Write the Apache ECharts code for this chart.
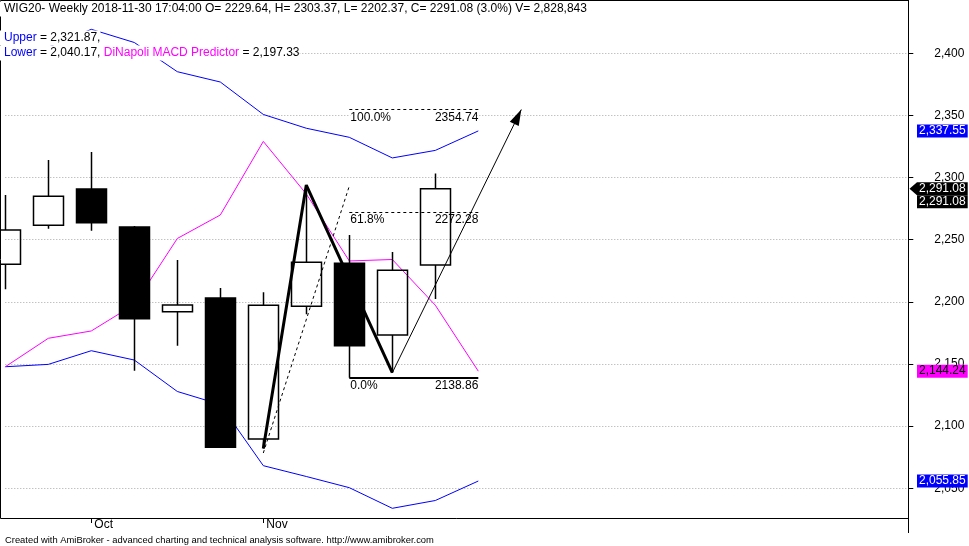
<!DOCTYPE html>
<html><head><meta charset="utf-8">
<script src="https://cdn.jsdelivr.net/npm/echarts@6/dist/echarts.min.js"></script>
<style>html,body{margin:0;padding:0;background:#fff}#c{width:969px;height:546px}</style>
</head><body><div id="c"></div>
<script>
// ---------- data ----------
const weeks = ['2018-09-21','2018-09-28','2018-10-05','2018-10-12','2018-10-19','2018-10-26','2018-11-02','2018-11-09','2018-11-16','2018-11-23','2018-11-30','2018-12-07','2018-12-14','2018-12-21','2018-12-28','2019-01-04','2019-01-11','2019-01-18','2019-01-25','2019-02-01','2019-02-08','2019-02-15'];
const monthLabels = {'2018-10-05':'Oct','2018-11-02':'Nov'};
const candleOpen  = [2230.2, 2261.6, 2290.8, 2260.2, 2192.1, 2203.1, 2089.6, 2196.4, 2231.0, 2173.3, 2229.64];
const candleClose = [2257.8, 2284.9, 2263.7, 2186.4, 2197.5, 2083.0, 2197.2, 2231.8, 2164.7, 2225.4, 2291.08];
const candleLow   = [2210.1, 2258.9, 2257.3, 2144.6, 2164.7, 2083.0, 2082.0, 2190.0, 2139.0, 2143.0, 2202.37];
const candleHigh  = [2286.0, 2314.1, 2320.6, 2261.0, 2233.7, 2211.2, 2207.7, 2294.0, 2253.8, 2240.1, 2303.37];
const upperBand   = [2398.0, 2405.0, 2419.3, 2408.7, 2385.2, 2376.9, 2350.8, 2339.7, 2332.4, 2315.8, 2321.87, 2337.55];
const lowerBand   = [2147.8, 2149.7, 2160.7, 2153.2, 2127.9, 2117.4, 2068.2, 2059.5, 2050.5, 2033.9, 2040.17, 2055.85];
const predictor   = [2147.8, 2170.7, 2176.6, 2197.9, 2251.0, 2269.9, 2329.1, 2286.8, 2232.9, 2234.1, 2197.33, 2144.24];
const zigIdx = [6, 7, 9];
const zigVal = [2082.0, 2294.0, 2143.0];
const dashIdx = [6, 8];
const dashVal = [2078.4, 2293.2];
const arrowIdx = [9, 12];
const arrowVal = [2143.0, 2354.74];
const fibIdx = [8, 11];
const fibRatios = ['0.0%', '61.8%', '100.0%'];
const fibPrices = [2138.86, 2272.28, 2354.74];
const yMin = 2000, yMax = 2450, yStep = 50;
const timeText = '17:04:00';
const volumeText = '2,828,843';
const ticker = 'WIG20- Weekly';
const footerText = 'Created with AmiBroker - advanced charting and technical analysis software. http://www.amibroker.com';

// ---------- build ----------
const FAMILY = "'Liberation Sans', Arial, sans-serif";
const FONT = "12px " + FAMILY;
const last = candleOpen.length - 1;
const candleData = candleOpen.map((o, i) => [o, candleClose[i], candleLow[i], candleHigh[i]]);
const fmt2 = v => v.toLocaleString('en-US', {minimumFractionDigits: 2, maximumFractionDigits: 2});
const pct = ((candleClose[last] - candleClose[last - 1]) / candleClose[last - 1] * 100).toFixed(1);
const header = `${ticker} ${weeks[last]} ${timeText} O= ${candleOpen[last].toFixed(2)}, H= ${candleHigh[last].toFixed(2)}, L= ${candleLow[last].toFixed(2)}, C= ${candleClose[last].toFixed(2)} (${pct}%) V= ${volumeText}`;

const fibItems = [];
fibRatios.forEach((r, i) => {
  const p = fibPrices[i];
  const solid = i === 0;
  const top = i === fibRatios.length - 1;
  const pctLabel = {show: true, position: 'insideStartBottom', distance: [1, 2], formatter: r, color: '#000', font: FONT};
  if (top) { pctLabel.backgroundColor = '#fff'; pctLabel.width = 126; }
  fibItems.push([
    {coord: [weeks[fibIdx[0]], p], lineStyle: {color: '#000', width: solid ? 2 : 1, type: solid ? 'solid' : [3, 3]}, label: pctLabel},
    {coord: [weeks[fibIdx[1]], p]}
  ]);
  fibItems.push([
    {coord: [weeks[fibIdx[0]], p], lineStyle: {color: 'rgba(0,0,0,0)', width: 1, type: 'solid'},
     label: {show: true, position: 'insideEndBottom', distance: [0, 2], formatter: p.toFixed(2), color: '#000', font: FONT}},
    {coord: [weeks[fibIdx[1]], p]}
  ]);
});
const arrowItem = [
  {coord: [weeks[arrowIdx[0]], arrowVal[0]], symbol: 'none', lineStyle: {color: '#000', width: 1, type: 'solid'}, label: {show: false}},
  {coord: [weeks[arrowIdx[1]], arrowVal[1]], symbol: 'triangle', symbolSize: [10, 16], symbolOffset: [0, 8], itemStyle: {color: '#000'}}
];

const chart = echarts.init(document.getElementById('c'), null, {renderer: 'canvas'});
const option = {
  animation: false,
  backgroundColor: '#fff',
  grid: [
    {left: 5.3, right: 60.7, top: -8.84, bottom: -4.44, outerBoundsMode: 'none', containLabel: false},
    {left: 5.3, right: 60.7, top: 0, bottom: 28, outerBoundsMode: 'none', containLabel: false}
  ],
  xAxis: [
    {type: 'category', gridIndex: 0, data: weeks, boundaryGap: false, show: false},
    {type: 'category', gridIndex: 1, data: weeks, boundaryGap: false,
     axisLine: {show: true, lineStyle: {color: '#000', width: 1}},
     axisTick: {show: true, length: 5, inside: false, interval: (i, v) => !!monthLabels[v], lineStyle: {color: '#000'}},
     axisLabel: {show: true, interval: 0, margin: 1, align: 'left', padding: [0, 0, 0, 3], color: '#000',
                 fontFamily: FAMILY, fontSize: 12, formatter: v => monthLabels[v] || ''},
     splitLine: {show: false}}
  ],
  yAxis: [
    {type: 'value', gridIndex: 0, position: 'right', min: yMin, max: yMax, interval: yStep,
     axisLine: {show: false},
     axisTick: {show: true, length: 5, inside: false, lineStyle: {color: '#000'}},
     axisLabel: {show: true, align: 'right', margin: 56, color: '#000', fontFamily: FAMILY, fontSize: 12,
                 showMinLabel: false, showMaxLabel: false, formatter: v => v.toLocaleString('en-US')},
     splitLine: {show: true, lineStyle: {color: '#a8a8a8', width: 1, type: [1, 2]}}},
    {type: 'value', gridIndex: 1, position: 'right', min: 0, max: 1,
     axisLine: {show: true, lineStyle: {color: '#000', width: 1}},
     axisTick: {show: false}, axisLabel: {show: false}, splitLine: {show: false}}
  ],
  series: [
    {type: 'line', name: 'Upper', xAxisIndex: 0, yAxisIndex: 0, data: upperBand, showSymbol: false, z: 1,
     lineStyle: {color: '#0000ff', width: 1}, itemStyle: {color: '#0000ff'}},
    {type: 'line', name: 'Lower', xAxisIndex: 0, yAxisIndex: 0, data: lowerBand, showSymbol: false, z: 1,
     lineStyle: {color: '#0000ff', width: 1}, itemStyle: {color: '#0000ff'}},
    {type: 'line', name: 'DiNapoli MACD Predictor', xAxisIndex: 0, yAxisIndex: 0, data: predictor, showSymbol: false, z: 1,
     lineStyle: {color: '#ff00ff', width: 1}, itemStyle: {color: '#ff00ff'}},
    {type: 'line', name: 'dash', xAxisIndex: 0, yAxisIndex: 0, data: dashIdx.map((x, i) => [weeks[x], dashVal[i]]),
     showSymbol: false, z: 1, lineStyle: {color: '#000', width: 1, type: [3, 3]}},
    {type: 'line', name: 'zigzag', xAxisIndex: 0, yAxisIndex: 0, data: zigIdx.map((x, i) => [weeks[x], zigVal[i]]),
     showSymbol: false, z: 1, lineStyle: {color: '#000', width: 3}, itemStyle: {color: '#000'},
     markLine: {silent: true, animation: false, symbol: ['none', 'none'], z: 5,
                label: {show: false}, data: fibItems.concat([arrowItem])}},
    {type: 'candlestick', name: 'WIG20', xAxisIndex: 0, yAxisIndex: 0, data: candleData, barWidth: 30, clip: false, z: 2,
     itemStyle: {color: 'rgba(0,0,0,0)', color0: '#000', borderColor: '#000', borderColor0: '#000', borderWidth: 1.5}}
  ]
};
chart.setOption(option);

// ---------- overlay texts (positions from the library's scale) ----------
const yPix = v => chart.convertToPixel({yAxisIndex: 0}, v);
const boxes = [
  {v: upperBand[upperBand.length - 1], bg: '#0000ff', fg: '#fff', shift: 0},
  {v: candleClose[last], bg: '#000', fg: '#fff', shift: 0, arrow: true},
  {v: candleClose[last], bg: '#000', fg: '#fff', shift: 13},
  {v: predictor[predictor.length - 1], bg: '#ff00ff', fg: '#000', shift: 0},
  {v: lowerBand[lowerBand.length - 1], bg: '#0000ff', fg: '#fff', shift: 0}
];
const g = [];
boxes.forEach(b => {
  const y = yPix(b.v) + b.shift;
  g.push({type: 'text', z: 100, x: 917, y: y,
    style: {text: fmt2(b.v), font: FONT, fill: b.fg, backgroundColor: b.bg, padding: [0, 2, 0, 2], lineHeight: 13, verticalAlign: 'middle', align: 'left'}});
  if (b.arrow) g.push({type: 'polygon', z: 100, shape: {points: [[909.5, y], [917, y - 6.5], [917, y + 6.5]]}, style: {fill: b.bg}});
});
g.push({type: 'text', z: 100, x: 0, y: 9,
  style: {text: header, font: FONT, fill: '#000', backgroundColor: '#fff', padding: [1, 0, 1, 4], lineHeight: 13, verticalAlign: 'middle'}});
g.push({type: 'text', z: 100, x: 0, y: 38,
  style: {text: `{b|Upper} = ${fmt2(upperBand[last])},`, font: FONT, fill: '#000', backgroundColor: '#fff', padding: [1, 0, 1, 4], lineHeight: 13, verticalAlign: 'middle',
          rich: {b: {fill: '#0000ff', font: FONT}}}});
g.push({type: 'text', z: 100, x: 0, y: 53,
  style: {text: `{b|Lower} = ${fmt2(lowerBand[last])}, {m|DiNapoli MACD Predictor} = ${fmt2(predictor[last])}`, font: FONT, fill: '#000', backgroundColor: '#fff', padding: [1, 0, 1, 4], lineHeight: 13, verticalAlign: 'middle',
          rich: {b: {fill: '#0000ff', font: FONT}, m: {fill: '#ff00ff', font: FONT}}}});
g.push({type: 'text', z: 100, x: 5, y: 540,
  style: {text: footerText, font: "9.4px " + FAMILY, fill: '#000', verticalAlign: 'middle'}});
// frame
g.push({type: 'polyline', z: 50, shape: {points: [[5.3, 518.5], [0.5, 518.5], [0.5, 0.5], [908.5, 0.5]]}, style: {stroke: '#000', lineWidth: 1, fill: null}});
g.push({type: 'line', z: 50, shape: {x1: 908.5, y1: 518, x2: 908.5, y2: 533}, style: {stroke: '#000', lineWidth: 1}});
chart.setOption({graphic: g});
</script>
</body></html>
